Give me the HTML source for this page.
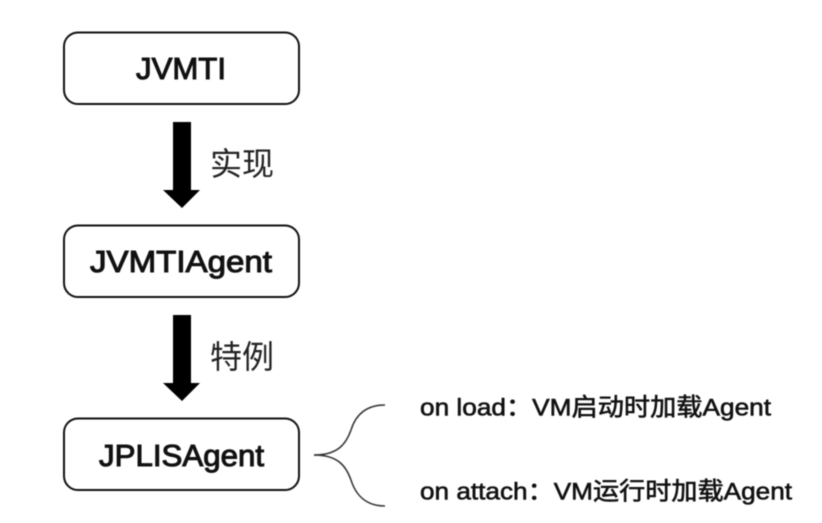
<!DOCTYPE html>
<html lang="zh">
<head>
<meta charset="utf-8">
<style>
html,body{margin:0;padding:0;background:#fff;width:822px;height:523px;overflow:hidden}
svg{display:block;filter:blur(0.45px)}
text{font-family:"Liberation Sans","Noto Sans CJK SC",sans-serif;fill:#111}
.b{font-size:31px;stroke:#111;stroke-width:1.05px}
.c{font-size:32px;fill:#222}
.s{font-size:24.5px;stroke:#111;stroke-width:.6px}
</style>
</head>
<body>
<svg width="822" height="523" viewBox="0 0 822 523" xmlns="http://www.w3.org/2000/svg">
<rect width="822" height="523" fill="#fff"/>
<g fill="#fff" stroke="#111" stroke-width="2">
<rect x="64" y="32.500" width="235" height="71.500" rx="14"/>
<rect x="64" y="225.500" width="235" height="71.500" rx="14"/>
<rect x="64" y="418.500" width="235" height="71.500" rx="14"/>
</g>
<path d="M173 122H191V190H200L182 208L163 190H173Z" fill="#000"/>
<path d="M173 315H191V383H200L182 401L163 383H173Z" fill="#000"/>
<text class="b" x="136" y="79" textLength="90" lengthAdjust="spacingAndGlyphs">JVMTI</text>
<text class="b" x="90" y="272" textLength="182" lengthAdjust="spacingAndGlyphs">JVMTIAgent</text>
<text class="b" x="99" y="466" textLength="165" lengthAdjust="spacingAndGlyphs">JPLISAgent</text>
<text class="c" x="210" y="175">实现</text>
<text class="c" x="210" y="368">特例</text>
<path d="M314 455C338 455 346 444 351 430C356 414 367 405 385 405" fill="none" stroke="#333" stroke-width="1.500"/>
<path d="M314 455C338 455 346 466 351 480C356 496 367 506 385 506" fill="none" stroke="#333" stroke-width="1.500"/>
<text class="s" x="420" y="415.500" textLength="351" lengthAdjust="spacingAndGlyphs">on load：VM启动时加载Agent</text>
<text class="s" x="420" y="499.500" textLength="372" lengthAdjust="spacingAndGlyphs">on attach：VM运行时加载Agent</text>
</svg>
</body>
</html>
